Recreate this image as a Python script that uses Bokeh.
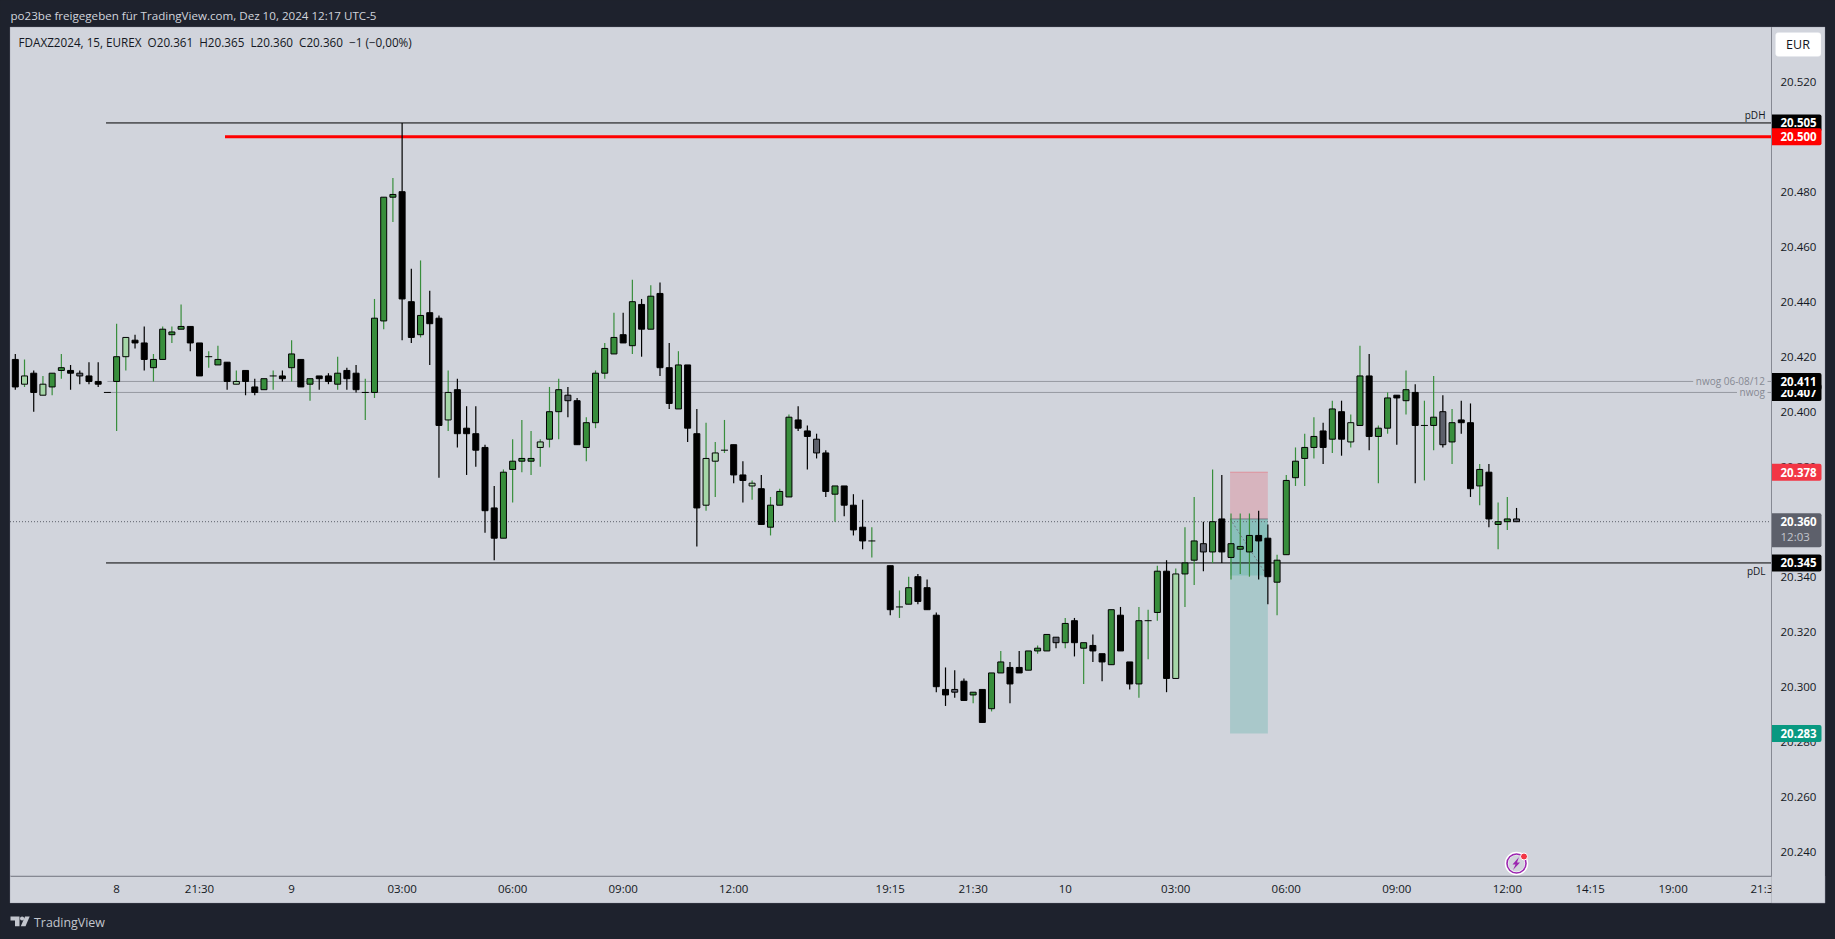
from bokeh.plotting import figure
from bokeh.models import (ColumnDataSource, BoxAnnotation, Label, FixedTicker, PolyAnnotation)
from bokeh.embed import file_html
from bokeh.resources import INLINE

# ---------- data (points above 20000; a bar is 20.000 + value/1000) ----------
PRICE_BASE = 20000
bar_index = list(range(94)) + list(range(95, 164))
highs = [421,419,415,413,414,421,417,415,418,418,
         407,432,427,428,431,421,431,431,439,431,
         425,422,424,418,415,415,412,412,415,415,
         426,419,412,413,414,420,416,417,412,441,
         478,485,505,452,455,444,435,415,412,402,
         402,388,373,379,390,397,393,390,409,412,
         409,405,398,415,425,436,436,448,441,446,
         447,425,422,417,401,396,389,397,388,382,
         375,377,369,372,399,402,395,392,386,373,
         373,370,368,358,
         344,335,340,341,339,
         327,307,306,303,298,299,305,313,309,313,
         313,315,319,318,325,325,316,319,312,328,
         329,309,329,328,344,346,343,358,369,360,
         379,377,363,363,363,364,359,348,377,387,
         392,398,396,404,404,399,424,421,395,407,
         406,415,410,404,413,406,401,404,403,381,
         381,367,369,365]
body_tops = [419,413,414,410,414,416,415,414,413,411,
             407,420,427,426,425,419,430,429,431,431,
             425,420,419,418,411,415,409,412,413,413,
             421,419,412,413,413,414,415,414,407,434,
             478,479,480,440,435,436,434,407,408,394,
             392,387,365,378,382,383,383,389,400,408,
             406,404,396,414,423,427,428,440,439,442,
             443,416,417,417,392,383,385,386,388,377,
             374,372,366,371,398,397,393,390,385,373,
             373,366,358,353,
             344,329,336,340,336,
             326,299,299,302,298,299,305,309,307,307,
             313,314,319,318,323,324,316,315,312,328,
             326,309,324,324,342,342,341,345,353,352,
             360,361,352,351,355,355,354,346,375,382,
             387,391,393,401,400,396,413,413,394,405,
             406,408,407,395,398,400,396,397,396,379,
             378,360,361,361]
body_bottoms = [409,410,407,406,409,415,414,413,411,410,
                407,411,420,425,419,416,419,428,430,425,
                413,420,417,411,410,411,407,408,413,412,
                416,409,410,412,411,410,412,408,407,407,
                433,478,441,427,428,432,395,397,392,392,
                386,364,354,354,379,382,382,387,390,400,
                404,388,387,396,414,421,425,424,430,430,
                416,403,401,394,365,366,382,386,377,375,
                373,359,358,366,369,394,391,385,371,370,
                366,357,353,353,
                328,329,330,331,328,
                300,297,298,295,297,287,292,305,301,305,
                306,313,313,316,316,316,314,313,309,308,
                313,301,301,324,327,303,303,341,346,349,
                349,349,347,350,349,353,340,338,348,376,
                383,387,387,390,390,389,395,391,391,394,
                405,404,395,395,395,388,389,396,372,373,
                361,359,360,360]
lows = [408,409,400,406,406,412,408,410,410,409,
        407,393,415,423,415,411,419,425,430,422,
        413,416,417,408,410,406,406,408,408,411,
        411,409,404,408,410,408,408,407,397,405,
        430,469,426,425,427,417,376,393,387,377,
        380,356,346,354,367,378,377,380,387,390,
        398,388,382,394,412,421,425,421,420,430,
        413,401,401,389,351,364,369,385,374,367,
        368,359,355,366,369,393,379,383,369,360,
        362,355,350,347,
        326,325,330,330,328,
        298,293,296,295,294,287,291,305,294,305,
        306,312,313,314,314,311,301,309,302,308,
        313,299,296,310,324,298,303,329,337,342,
        345,345,339,341,340,339,330,326,348,373,
        373,383,381,385,384,387,395,386,374,392,
        388,399,374,375,386,387,381,392,369,366,
        358,350,357,360]
shades = list("klklggkskk" "kglkkggggk" "kggklkkggk" "gkgkkgkkgg"
              "ggkkgkklkk" "kkkggggl" "gg" "skggggkgkg" "kkgkkllgkk"
              "lkgggkkskg" "kkkg" "kggkk" "kkskgkggkk" "gggsgkgkkg"
              "kkgggklggs" "gkgggkkggg" "ggkgklgkgg" "kgkggsgkkg" "kggs")
assert len(bar_index) == len(highs) == len(body_tops) == len(body_bottoms) == len(lows) == len(shades)

price_ticks = [20240, 20260, 20280, 20300, 20320, 20340, 20360, 20380, 20400, 20420,
               20440, 20460, 20480, 20500, 20520]
time_tick_bars = [11, 20, 30, 42, 54, 66, 78, 95, 104, 114, 126, 138, 150, 162, 171, 180, 190]
time_tick_labels = ["8", "21:30", "9", "03:00", "06:00", "09:00", "12:00", "19:15", "21:30",
                    "10", "03:00", "06:00", "09:00", "12:00", "14:15", "19:00", "21:30"]
pdh, pdl, red_level = 20505, 20345, 20500
nwog_a, nwog_b = 20411, 20407
last_price = 20360
pos_stop, pos_entry, pos_target, pos_now = 20378, 20361, 20283, 20340.4
pos_left, pos_right = 131.9, 136.0

# ---------- palette ----------
DARK = "#1e222d"
PANE = "#d1d4dc"
EDGE = "#868993"
GREEN = "#388e3c"
LIGHT = "#a5d6a7"
SLATE = "#5d606b"
INK = "#131722"
FONT = "Open Sans"
NB = "\u00a0"
BODY = {"g": GREEN, "l": LIGHT, "k": "#000000", "s": SLATE}
WICK = {"g": GREEN, "l": GREEN, "k": "#000000", "s": "#000000"}

# ---------- scale: the frame is the whole canvas; the pane sits in these pixels ----------
F_L, F_R, F_T, F_B = 9.5, 1771, 26.5, 875.5
P_R, P_B = 1824.5, 902.5
W, H = 1835, 939
PX_BAR, PX_PT = 9.21, 2.75
sx = lambda px: (px - 14.8) / PX_BAR
sy = lambda py: 20520 - (py - 81.2) / PX_PT
py_of = lambda price: 81.2 + (20520 - price) * PX_PT
x_l, x_r = sx(F_L), sx(F_R)

p = figure(width=W, height=H, x_range=(sx(0), sx(W)), y_range=(sy(H), sy(0)), output_backend="svg",
           toolbar_location=None, y_axis_location="right", min_border=0,
           min_border_left=0, min_border_right=0, min_border_top=0, min_border_bottom=0,
           background_fill_color=DARK, border_fill_color=DARK)
p.grid.visible = False
p.outline_line_color = None


def box(l, r, t, b, **kw):
    kw.setdefault("fill_alpha", 1)
    p.add_layout(BoxAnnotation(left=l, right=r, top=t, bottom=b, left_units="canvas", right_units="canvas",
                               top_units="canvas", bottom_units="canvas", **kw))


# pane and axis strips
box(F_L, F_R, F_T, F_B, fill_color=PANE, line_color=EDGE, line_width=1, level="underlay")
box(F_L, P_R, F_B, P_B, fill_color=PANE, line_color=EDGE, line_width=1, level="guide")
box(F_R, P_R, F_T, P_B, fill_color=PANE, line_color=EDGE, line_width=1, level="annotation")

ya = p.yaxis[0]
ya.fixed_location = x_r
ya.bounds = (sy(F_B), sy(F_T))
ya.ticker = FixedTicker(ticks=price_ticks)
ya.major_label_overrides = {t: f"{t/1000:.3f}" for t in price_ticks}
ya.major_tick_line_color = None
ya.minor_tick_line_color = None
ya.axis_line_color = EDGE
ya.major_label_text_font = FONT
ya.major_label_text_font_size = "11.5px"
ya.major_label_text_color = INK
ya.major_label_standoff = 3
ya.level = "overlay"

xa = p.xaxis[0]
xa.fixed_location = sy(F_B)
xa.bounds = (x_l, x_r + 1)
xa.ticker = FixedTicker(ticks=time_tick_bars)
xa.major_label_overrides = dict(zip(time_tick_bars, time_tick_labels))
xa.major_tick_line_color = None
xa.minor_tick_line_color = None
xa.axis_line_color = EDGE
xa.major_label_text_font = FONT
xa.major_label_text_font_size = "11.5px"
xa.major_label_text_color = INK
xa.major_label_standoff = -1
xa.level = "annotation"

# position tool
p.quad(left=pos_left, right=pos_right, bottom=pos_entry, top=pos_stop, fill_color="#f23645", fill_alpha=0.2, line_color=None)
p.quad(left=pos_left, right=pos_right, bottom=pos_target, top=pos_entry, fill_color="#089981", fill_alpha=0.2, line_color=None)
p.quad(left=pos_left, right=pos_right, bottom=pos_now, top=pos_entry, fill_color="#089981", fill_alpha=0.2, line_color=None)
p.segment(pos_left, pos_stop, pos_right, pos_stop, line_color="#f23645", line_alpha=0.35, line_width=1)
p.segment(pos_left, pos_entry, pos_right, pos_entry, line_color="#5d606b", line_alpha=0.7, line_width=1)
p.segment(pos_left, pos_entry, pos_right - 0.1, pos_now, line_color="#787b86", line_width=1, line_dash="2 2")

# horizontal levels
p.segment(10, nwog_a, x_r, nwog_a, line_color="#9598a1", line_width=1)
p.segment(10, nwog_b, x_r, nwog_b, line_color="#9598a1", line_width=1)
p.segment(x_l, last_price, x_r, last_price, line_color="#5d606b", line_width=1, line_dash="1 2")
p.segment(9.85, pdh, x_r, pdh, line_color="#000000", line_width=1)
p.segment(9.85, pdl, x_r, pdl, line_color="#000000", line_width=1)
p.segment(sx(224.5), red_level, x_r, red_level, line_color="#ff0000", line_width=3)

# candles
src = ColumnDataSource(dict(
    x=bar_index,
    high=[PRICE_BASE + v for v in highs],
    low=[PRICE_BASE + v for v in lows],
    top=[PRICE_BASE + v for v in body_tops],
    bottom=[PRICE_BASE + v for v in body_bottoms],
    body=[BODY[s] for s in shades],
    wick=[WICK[s] for s in shades],
))
p.segment("x", "high", "x", "low", source=src, line_color="wick", line_width=1.2)
keep = [i for i, (t, b) in enumerate(zip(body_tops, body_bottoms)) if t > b]
flat = [i for i, (t, b) in enumerate(zip(body_tops, body_bottoms)) if t == b]
bars = ColumnDataSource({k: [v[i] for i in keep] for k, v in src.data.items()})
p.vbar("x", 0.65, "bottom", "top", source=bars, fill_color="body", line_color="#000000", line_width=1)
p.segment([bar_index[i] - 0.38 for i in flat], [PRICE_BASE + body_tops[i] for i in flat],
          [bar_index[i] + 0.38 for i in flat], [PRICE_BASE + body_tops[i] for i in flat],
          line_color="#000000", line_width=1)

# alert icon in the pane
ix, iy = sx(1516), sy(863)
p.scatter([ix], [iy], size=20, fill_color=PANE, line_color="#ffffff", line_width=3.5)
p.scatter([ix], [iy], size=19, fill_color=None, line_color="#9c27b0", line_width=1.6)
p.patch([sx(v) for v in (1518.5, 1512, 1515, 1512.5, 1519.5, 1516.5)],
        [sy(v) for v in (856.5, 864, 864, 869.5, 862, 862)], fill_color="#9c27b0", line_color=None)
p.scatter([sx(1523.5)], [sy(856)], size=7, fill_color="#f23645", line_color="#ffffff", line_width=1)


def text(px, py, s, color=INK, size="11.5px", align="left", **kw):
    p.add_layout(Label(x=px, y=py, x_units="canvas", y_units="canvas", text=s, text_color=color, text_font=FONT,
                       text_font_size=size, text_align=align, text_baseline="middle", level="overlay", **kw))


def tag(price, color, extra_px=0):
    py = py_of(price)
    box(F_R + 0.5, 1821, py - 8.5, py + 8.5 + extra_px, fill_color=color, line_color=None, level="overlay",
        border_radius=(0, 2, 2, 0))
    text(1780, py, f"{price/1000:.3f}", color="#ffffff", text_font_style="bold")


# level names
text(1765, py_of(pdh) - 7.5, "pDH", size="10px", align="right")
text(1765, py_of(pdl) + 8.5, "pDL", size="10px", align="right")
text(1767, py_of(nwog_a), f"{NB}nwog 06-08/12{NB}", size="10px", align="right", color="#868993", background_fill_color=PANE)
text(1767, py_of(nwog_b), f"{NB}nwog{NB}", size="10px", align="right", color="#868993", background_fill_color=PANE)

# price tags
tag(nwog_b, "#000000")
tag(nwog_a, "#000000")
tag(pdh, "#000000")
tag(red_level, "#ff0000")
tag(pos_stop, "#f23645")
tag(pdl, "#000000")
tag(pos_target, "#089981")
tag(last_price, SLATE, extra_px=17)
text(1780, py_of(last_price) + 14.5, "12:03", color="#c4c6cd")

# currency button
box(1775, 1820.5, 32, 56, fill_color="#ffffff", line_color="#e0e3eb", line_width=1, level="overlay", border_radius=3)
text(1797.5, 44, "EUR", align="center", size="12.5px")

# header, legend line and footer
text(10, 14.5, "po23be freigegeben für TradingView.com, Dez 10, 2024 12:17 UTC-5", color="#d1d4dc", size="11.6px")
text(18, 41.5, f"FDAXZ2024, 15, EUREX{NB}{NB}O20.361{NB}{NB}H20.365{NB}{NB}L20.360{NB}{NB}C20.360{NB}{NB}−1 (−0,00%)", size="11.7px")
text(33.5, 921.5, "TradingView", color="#c3c6ce", size="12.4px")

# footer logo
for xs, ys in [((10, 19, 19, 14.5, 14.5, 10), (916, 916, 925.7, 925.7, 920, 920)),
               ((24.5, 29.2, 25, 20.3), (916, 916, 925.7, 925.7))]:
    p.add_layout(PolyAnnotation(xs=[sx(v) for v in xs], ys=[sy(v) for v in ys], fill_color="#c3c6ce", fill_alpha=1,
                                line_color=None, level="overlay"))
p.scatter([sx(21.6)], [sy(918)], size=4.2, fill_color="#c3c6ce", line_color=None)

TEMPLATE = """{% block preamble %}<style>html,body{margin:0;padding:0;overflow:hidden;background:#1e222d}</style>{% endblock %}"""
open("out.html", "w").write(file_html(p, INLINE, template=TEMPLATE))
